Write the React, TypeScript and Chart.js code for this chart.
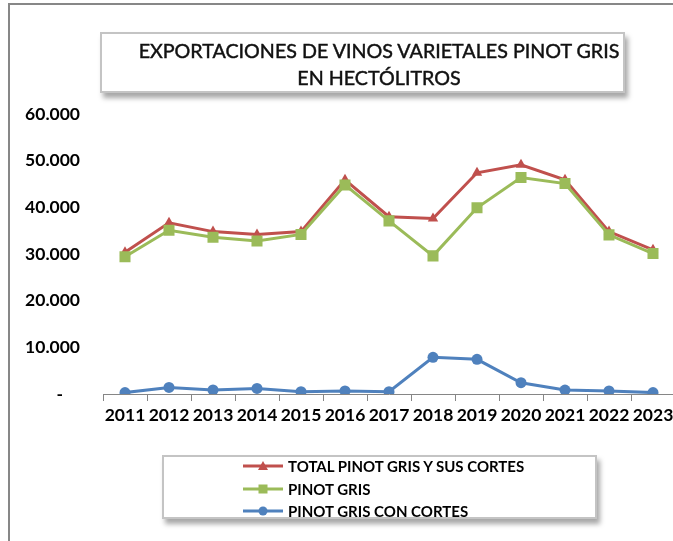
import React, { useEffect, useRef } from "react";
import { Chart, registerables } from "chart.js";

Chart.register(...registerables);

const years = ["2011", "2012", "2013", "2014", "2015", "2016", "2017", "2018", "2019", "2020", "2021", "2022", "2023"];
const totalPinotGris = [30400, 36700, 34800, 34200, 34800, 45900, 38000, 37600, 47400, 49100, 45900, 34800, 30900];
const pinotGris = [29400, 35100, 33600, 32800, 34200, 44800, 37100, 29600, 39900, 46400, 45100, 34100, 30100];
const pinotGrisConCortes = [300, 1400, 860, 1200, 500, 640, 500, 7860, 7430, 2420, 850, 640, 300];
const yTicks = [0, 10000, 20000, 30000, 40000, 50000, 60000];

const titleLines = ["EXPORTACIONES DE VINOS VARIETALES PINOT GRIS", "EN HECTÓLITROS"];

const seriesNames = ["TOTAL PINOT GRIS Y SUS CORTES", "PINOT GRIS", "PINOT GRIS CON CORTES"];
const seriesColors = ["#C0504D", "#9BBB59", "#4F81BD"];
const seriesMarkers = ["triangle", "rect", "circle"];

const FONT = "Lato, 'Liberation Sans', sans-serif";

function fmt(v: number): string {
  if (v === 0) return "-    ";
  return String(v).replace(/\B(?=(\d{3})+(?!\d))/g, ".");
}

function Marker({ kind, color }: { kind: string; color: string }) {
  return (
    <svg width={40} height={12} style={{ display: "block" }}>
      <line x1={0} y1={6} x2={40} y2={6} stroke={color} strokeWidth={3} />
      {kind === "triangle" && <polygon points="20,1 25,10 15,10" fill={color} />}
      {kind === "rect" && <rect x={15.5} y={1.5} width={9} height={9} fill={color} />}
      {kind === "circle" && <circle cx={20} cy={6} r={4.5} fill={color} />}
    </svg>
  );
}

export default function App() {
  const ref = useRef<HTMLCanvasElement | null>(null);

  useEffect(() => {
    if (!ref.current) return;
    const data = [totalPinotGris, pinotGris, pinotGrisConCortes];
    const radii = [6, 7.8, 5.5];
    const chart = new Chart(ref.current, {
      type: "line",
      data: {
        labels: years,
        datasets: data.map((d, i) => ({
          label: seriesNames[i],
          data: d,
          borderColor: seriesColors[i],
          backgroundColor: seriesColors[i],
          borderWidth: 3,
          pointStyle: seriesMarkers[i] as any,
          pointRadius: radii[i],
          pointBorderWidth: 0,
          pointBackgroundColor: seriesColors[i],
          tension: 0,
          order: 3 - i,
        })),
      },
      options: {
        responsive: false,
        animation: false,
        devicePixelRatio: 1,
        layout: { padding: { top: 114, right: 15, bottom: 0, left: 0 } },
        plugins: { legend: { display: false }, title: { display: false }, tooltip: { enabled: false } },
        scales: {
          x: {
            offset: true,
            grid: { display: true, drawOnChartArea: false, drawTicks: true, tickLength: 7, color: "#868686", offset: true },
            border: { display: true, color: "#868686", width: 1 },
            ticks: {
              color: "#000",
              font: { family: FONT, size: 17.5, weight: "bold" },
              padding: 4,
              maxRotation: 0,
              autoSkip: false,
            },
            afterFit: (s: any) => {
              s.height = 147;
            },
          },
          y: {
            min: 0,
            max: 60000,
            afterBuildTicks: (s: any) => {
              s.ticks = yTicks.map((v) => ({ value: v }));
            },
            grid: { display: false, drawTicks: false },
            border: { display: false },
            ticks: {
              color: "#000",
              font: { family: FONT, size: 17.5, weight: "bold" },
              padding: 23,
              callback: (v: any) => fmt(Number(v)),
            },
            afterFit: (s: any) => {
              s.width = 103;
            },
          },
        },
      },
    });
    return () => chart.destroy();
  }, []);

  return (
    <div style={{ position: "fixed", left: 0, top: 0, width: 673, height: 541, overflow: "hidden", background: "#fff" }}>
      <div
        style={{
          position: "absolute",
          left: 8,
          top: 3,
          width: 700,
          height: 600,
          borderLeft: "2px solid #878787",
          borderTop: "2px solid #878787",
        }}
      />
      <canvas ref={ref} width={690} height={541} style={{ position: "absolute", left: 0, top: 0, width: 690, height: 541 }} />
      <div
        style={{
          position: "absolute",
          left: 100,
          top: 32,
          width: 525,
          height: 61,
          border: "2px solid #c4c4c4",
          background: "#fff",
          boxShadow: "3px 5px 5px rgba(0,0,0,0.35)",
          fontFamily: FONT,
          fontWeight: 400,
          fontSize: 19.7,
          lineHeight: "27px",
          color: "#111",
          textAlign: "center",
          paddingTop: 3,
          paddingLeft: 33,
          boxSizing: "border-box",
          WebkitTextStroke: "0.45px #111",
        }}
      >
        {titleLines.map((t, i) => (
          <div key={i} style={{ whiteSpace: "nowrap" }}>{t}</div>
        ))}
      </div>
      <div
        style={{
          position: "absolute",
          left: 162,
          top: 455,
          width: 431,
          height: 60,
          border: "2px solid #c4c4c4",
          background: "#fff",
          boxShadow: "3px 5px 5px rgba(0,0,0,0.35)",
          fontFamily: FONT,
        }}
      >
        {seriesNames.map((n, i) => (
          <div
            key={i}
            style={{ position: "absolute", left: 79, top: -2 + i * 22.5, height: 22, display: "flex", alignItems: "center" }}
          >
            <Marker kind={seriesMarkers[i]} color={seriesColors[i]} />
            <span style={{ marginLeft: 5, fontWeight: 700, fontSize: 15, color: "#000", whiteSpace: "nowrap" }}>{n}</span>
          </div>
        ))}
      </div>
    </div>
  );
}
